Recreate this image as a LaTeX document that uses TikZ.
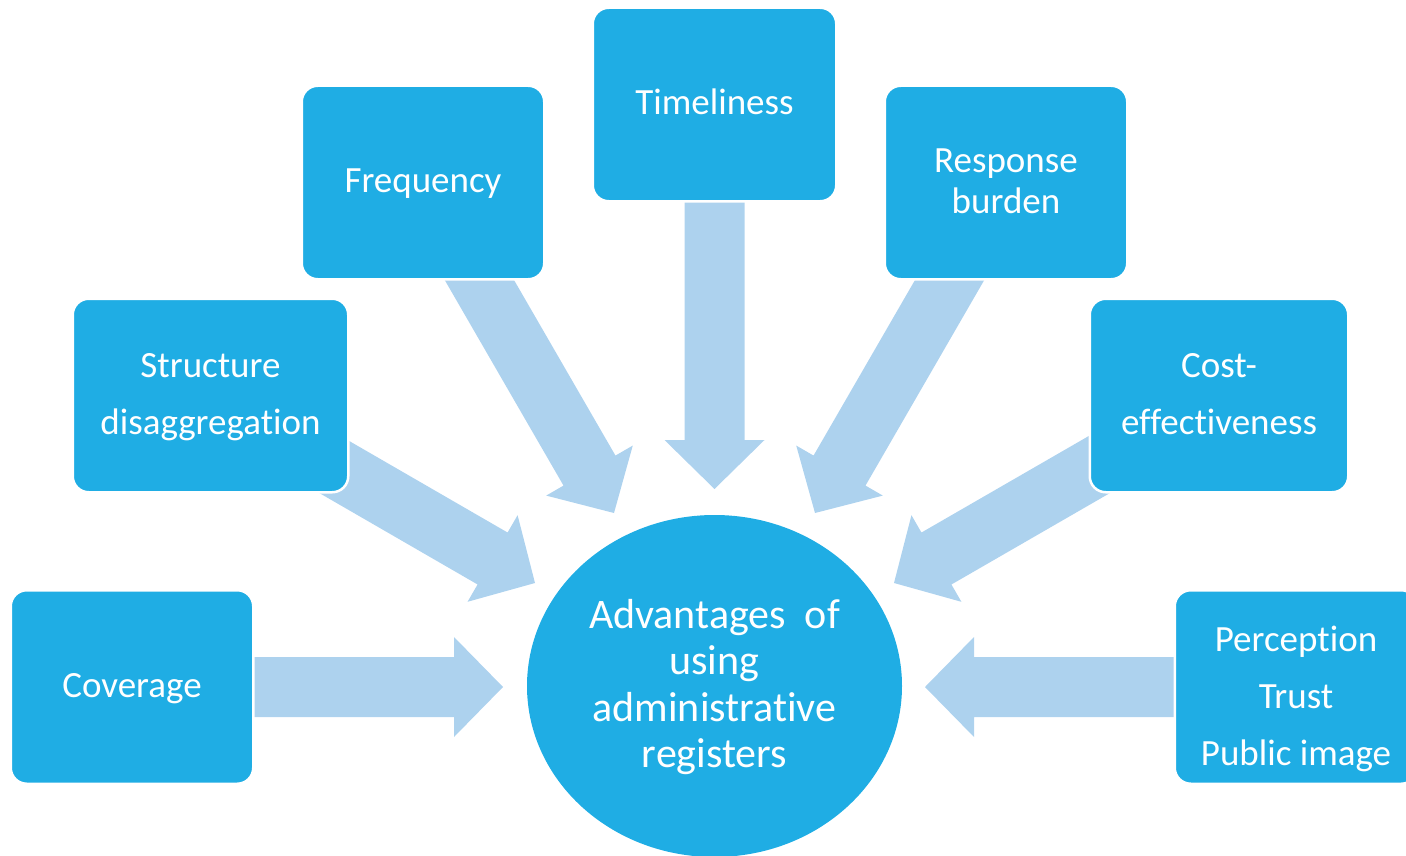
\documentclass[tikz,border=0pt]{standalone}
\usepackage{fontspec}
\setmainfont{Carlito}[Ligatures={NoCommon,NoContextual},Contextuals=NoAlternate]
\usetikzlibrary{calc,shapes.geometric,backgrounds}
\definecolor{boxblue}{RGB}{31,173,228}
\definecolor{arrowblue}{RGB}{173,210,238}
\newcommand\lnstrut{\rule[-0.22em]{0pt}{1em}}
\newcommand\radarrow[2]{%
  \coordinate (#2h) at ($(#2)!49pt!(#1.center)$);
  \fill[arrowblue] ($(#1.center)!30pt!90:(#2)$) -- ($(#2h)!30pt!90:(#2)$) --
    ($(#2h)!50pt!90:(#2)$) -- (#2) -- ($(#2h)!50pt!-90:(#2)$) --
    ($(#2h)!30pt!-90:(#2)$) -- ($(#1.center)!30pt!-90:(#2)$) -- cycle;
}
\begin{document}
\begin{tikzpicture}[x=1pt,y=-1pt,
  box/.style={rectangle, rounded corners=16pt, fill=boxblue, draw=white,
    line width=2.5pt, inner sep=0pt, minimum height=193.5pt,
    text=white, align=center, font=\fontsize{37}{41}\selectfont},
  hub/.style={ellipse, fill=boxblue, inner sep=0pt, minimum width=375pt,
    minimum height=342pt, text=white, align=center,
    font=\fontsize{42}{46.5}\selectfont}]
\useasboundingbox (0,0) rectangle (1406,856);
\node[box, minimum width=242.5pt] (cov) at (132,687) {\lnstrut Coverage};
\node[box, minimum width=275.5pt] (str) at (210.5,395.5) {\lnstrut Structure\\[16pt]\lnstrut disaggregation};
\node[box, minimum width=242.5pt] (freq) at (423,182.5) {\lnstrut Frequency};
\node[box, minimum width=243.5pt] (time) at (714.5,104.5) {\lnstrut Timeliness};
\node[box, minimum width=242.5pt] (resp) at (1006,182.5) {\lnstrut Response\\\lnstrut burden};
\node[box, minimum width=258.5pt] (cost) at (1219,395.5) {\lnstrut Cost-\\[16pt]\lnstrut effectiveness};
\node[box, minimum width=242.5pt] (perc) at (1296,687) {\rule[-0.22em]{0pt}{\dimexpr1em+22pt\relax}Perception\\[16pt]\lnstrut Trust\\[16pt]\lnstrut Public image};
\node[hub] (hub) at (714.5,686) {\lnstrut Advantages\ \ of\\\lnstrut using\\\lnstrut administrative\\\lnstrut registers};
\coordinate (covt) at (503,687);
\coordinate (strt) at (535,583);
\coordinate (freqt) at (614,513);
\coordinate (timet) at (714.5,489);
\coordinate (respt) at (815,513);
\coordinate (costt) at (894,583);
\coordinate (perct) at (925,687);
\begin{pgfonlayer}{background}
\radarrow{cov}{covt}
\radarrow{str}{strt}
\radarrow{freq}{freqt}
\radarrow{time}{timet}
\radarrow{resp}{respt}
\radarrow{cost}{costt}
\radarrow{perc}{perct}
\end{pgfonlayer}
\end{tikzpicture}
\end{document}
